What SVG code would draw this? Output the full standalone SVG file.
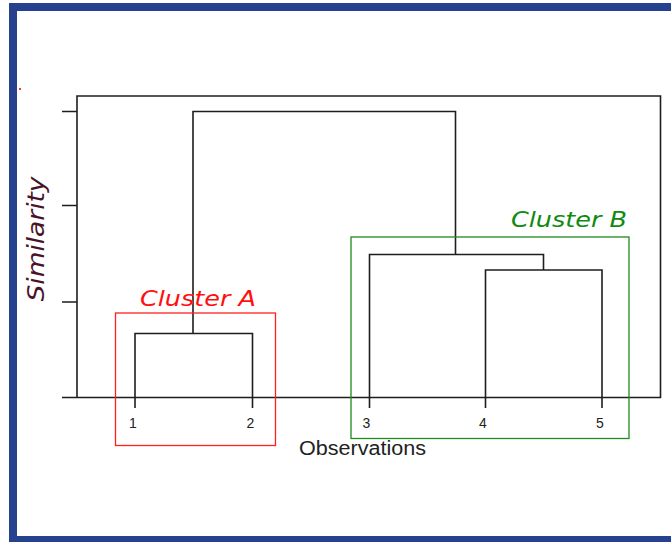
<svg xmlns="http://www.w3.org/2000/svg" width="671" height="542" viewBox="0 0 671 542">
<style>
.ln{fill:none;stroke:#1e1e1e;stroke-width:1.6}
.num{font-family:"Liberation Sans",Arial,sans-serif;font-size:14px;fill:#222;text-anchor:middle}
.clab{font-family:"DejaVu Sans",Verdana,sans-serif;font-style:italic;font-size:22px}
</style>
<rect x="0" y="0" width="671" height="542" fill="#ffffff"/>
<g id="border" fill="#26428f">
<rect x="9" y="3" width="662" height="8"/>
<rect x="9" y="3" width="8" height="539"/>
<rect x="9" y="536" width="662" height="6"/>
</g>
<rect x="19" y="88" width="2" height="2" fill="#ff3333"/>
<g id="axes" class="ln">
<path d="M77,397.5 V96 H660.5 V397.5 H62"/>
<path d="M62,111.5 H77 M62,205.5 H77 M62,302 H77"/>
</g>
<g id="connectors" class="ln">
<path d="M193,333.5 V111.5 H455.5 V254.5"/>
<path d="M135,408 V333.5 H252.5 V408"/>
<path d="M369.5,408 V254.5 H543.5 V270"/>
<path d="M485.5,408 V270 H602 V408"/>
</g>
<g id="leaf1"><text class="num" x="133" y="428">1</text></g>
<g id="leaf2"><text class="num" x="250.5" y="428">2</text></g>
<g id="leaf3"><text class="num" x="366.5" y="428">3</text></g>
<g id="leaf4"><text class="num" x="483" y="428">4</text></g>
<g id="leaf5"><text class="num" x="600" y="428">5</text></g>
<g id="clusterA">
<rect x="115.5" y="313" width="160" height="132.5" fill="none" stroke="#ff2020" stroke-width="1.3"/>
<text class="clab" x="140" y="305.5" fill="#ff1010" textLength="116" lengthAdjust="spacingAndGlyphs">Cluster A</text>
</g>
<g id="clusterB">
<rect x="351" y="237" width="278" height="201.5" fill="none" stroke="#1e8c1e" stroke-width="1.3"/>
<text class="clab" x="511" y="226.5" fill="#108a10" textLength="116" lengthAdjust="spacingAndGlyphs">Cluster B</text>
</g>
<g id="xlabel"><text x="299" y="455" font-family="'Liberation Sans',Arial,sans-serif" font-size="20" fill="#222" textLength="127" lengthAdjust="spacingAndGlyphs">Observations</text></g>
<g id="ylabel"><text transform="translate(44,301.5) rotate(-90)" font-family="'DejaVu Sans',Verdana,sans-serif" font-style="italic" font-size="23" fill="#4a1428" textLength="125" lengthAdjust="spacingAndGlyphs">Similarity</text></g>
</svg>
